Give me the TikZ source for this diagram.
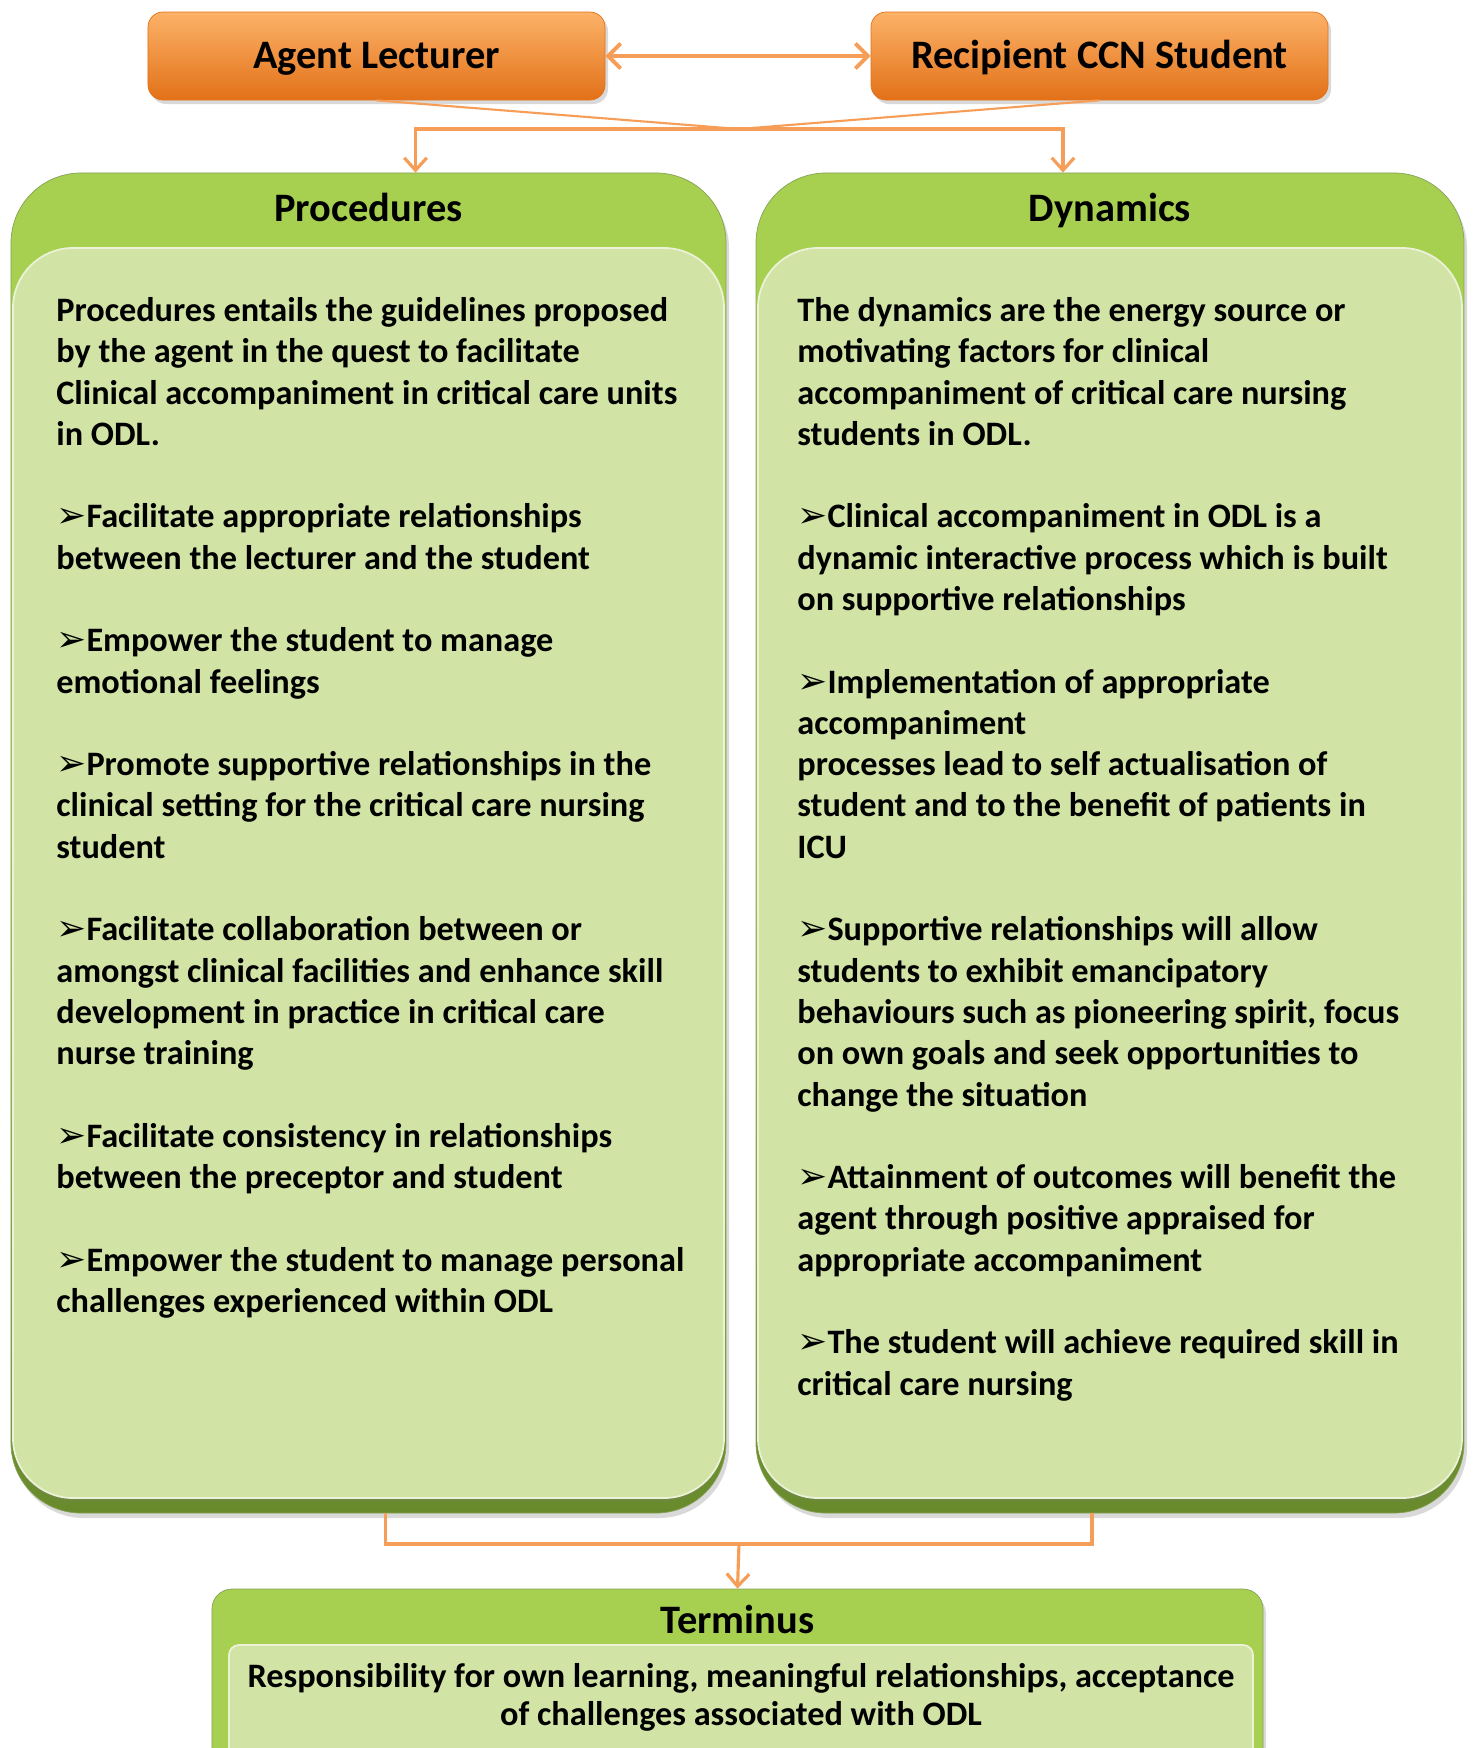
\documentclass[tikz,border=0pt]{standalone}
\usepackage{fontspec}
\setmainfont{Carlito}
\newfontfamily\arrowfont{DejaVu Sans}
\usepackage{xcolor}
\usepackage{tikz}
\usetikzlibrary{arrows.meta, positioning, calc, shadows}
\definecolor{leadorange}{RGB}{247,150,70}
\definecolor{leadlight}{RGB}{252,178,104}
\definecolor{leaddark}{RGB}{226,113,24}
\definecolor{panelgreen}{RGB}{167,208,80}
\definecolor{paneldark}{RGB}{104,138,44}
\definecolor{panelpale}{RGB}{210,227,166}
\definecolor{linkorange}{RGB}{246,158,88}
\newcommand{\bularrow}{{\arrowfont\scalebox{1.05}{\char"27A2}}}

\begin{document}
\begin{tikzpicture}[
    x=0.2mm, y=-0.2mm,
    lead/.style={draw=leaddark, rounded corners=3mm, top color=leadlight, bottom color=leaddark, font=\bfseries\fontsize{23}{27}\selectfont, text height=16pt, text depth=2pt, minimum width=91.4mm, minimum height=17.6mm, drop shadow={opacity=0.3, shadow xshift=0.6mm, shadow yshift=-0.8mm}},
    panel/.style={draw=paneldark!80, rounded corners=14mm, top color=panelgreen, bottom color=paneldark, middle color=panelgreen, drop shadow={opacity=0.3, shadow xshift=0.6mm, shadow yshift=-1mm}},
    insetbox/.style={draw=white!55!panelpale, line width=1pt, rounded corners=12mm, fill=panelpale, drop shadow={opacity=0.25, shadow xshift=0mm, shadow yshift=-0.6mm}},
    title/.style={font=\bfseries\fontsize{23}{27}\selectfont, text height=16pt, text depth=4.6pt},
    body/.style={anchor=north west, inner sep=0pt, align=left, font=\bfseries\fontsize{19.5}{23.5}\selectfont},
    link/.style={draw=linkorange, line width=1.2pt},
    arrow/.style={draw=linkorange, line width=1.8pt, -{Straight Barb[length=2.5mm, width=4.5mm]}}
]
    \useasboundingbox (0,0) rectangle (1475,1748);
    \clip (0,0) rectangle (1475,1748);

    % Agent and recipient
    \node[lead] (agent) at (376.5,56) {Agent Lecturer};
    \node[lead] (recipient) at (1099.5,56) {Recipient CCN Student};
    \draw[arrow, {Straight Barb[length=2.5mm, width=5mm]}-{Straight Barb[length=2.5mm, width=5mm]}, line width=2.2pt] (agent) -- (recipient);

    % Two panels
    \node[panel, minimum width=143mm, minimum height=268mm] (proc) at (368.5,843) {};
    \node[insetbox, minimum width=142.2mm, minimum height=250mm] (procin) at (368.5,873) {};
    \node[title] (proctitle) at (368.5,211.5) {Procedures};
    \node[panel, minimum width=141.6mm, minimum height=268mm] (dyn) at (1110,843) {};
    \node[insetbox, minimum width=140.8mm, minimum height=250mm] (dynin) at (1110,873) {};
    \node[title] (dyntitle) at (1110,211.5) {Dynamics};

    % Texts
    \node[body] (procbody) at (56,297) {Procedures entails the guidelines proposed\\
by the agent in the quest to facilitate\\
Clinical accompaniment in critical care units\\
in ODL.\\[23.5pt]
\bularrow Facilitate appropriate relationships\\
between the lecturer and the student\\[23.5pt]
\bularrow Empower the student to manage\\
emotional feelings\\[23.5pt]
\bularrow Promote supportive relationships in the\\
clinical setting for the critical care nursing\\
student\\[23.5pt]
\bularrow Facilitate collaboration between or\\
amongst clinical facilities and enhance skill\\
development in practice in critical care\\
nurse training\\[23.5pt]
\bularrow Facilitate consistency in relationships\\
between the preceptor and student\\[23.5pt]
\bularrow Empower the student to manage personal\\
challenges experienced within ODL};
    \node[body] (dynbody) at (797,297) {The dynamics are the energy source or\\
motivating factors for clinical\\
accompaniment of critical care nursing\\
students in ODL.\\[23.5pt]
\bularrow Clinical accompaniment in ODL is a\\
dynamic interactive process which is built\\
on supportive relationships\\[23.5pt]
\bularrow Implementation of appropriate\\
accompaniment\\
processes lead to self actualisation of\\
student and to the benefit of patients in\\
ICU\\[23.5pt]
\bularrow Supportive relationships will allow\\
students to exhibit emancipatory\\
behaviours such as pioneering spirit, focus\\
on own goals and seek opportunities to\\
change the situation\\[23.5pt]
\bularrow Attainment of outcomes will benefit the\\
agent through positive appraised for\\
appropriate accompaniment\\[23.5pt]
\bularrow The student will achieve required skill in\\
critical care nursing};

    % Terminus
    \node[draw=paneldark!80, rounded corners=4mm, fill=panelgreen, minimum width=210.2mm, minimum height=40mm, drop shadow={opacity=0.3, shadow xshift=0.6mm, shadow yshift=-1mm}] (term) at (737.5,1689) {};
    \node[draw=white!55!panelpale, line width=1pt, rounded corners=2mm, fill=panelpale, minimum width=204.8mm, minimum height=27mm] (termin) at (741,1712.5) {};
    \node[title] (termtitle) at (737.5,1623) {Terminus};
    \node[body, anchor=center, align=center, font=\bfseries\fontsize{19.5}{21.6}\selectfont] (termbody) at (741,1697) {Responsibility for own learning, meaningful relationships, acceptance\\
of challenges associated with ODL};

    % Connectors
    \coordinate (join) at (739,129);
    \coordinate (merge) at (739,1544);
    \draw[link] (agent.south) -- (join);
    \draw[link] (recipient.south) -- (join);
    \draw[arrow] (join) -| ($(proc.north)+(47,0)$);
    \draw[arrow] (join) -| ($(dyn.north)+(-47,0)$);
    \draw[link, line width=1.8pt] ($(proc.south)+(17,0)$) |- (merge) -| ($(dyn.south)+(-18,0)$);
    \draw[arrow] (merge) -- (term.north);
\end{tikzpicture}
\end{document}
